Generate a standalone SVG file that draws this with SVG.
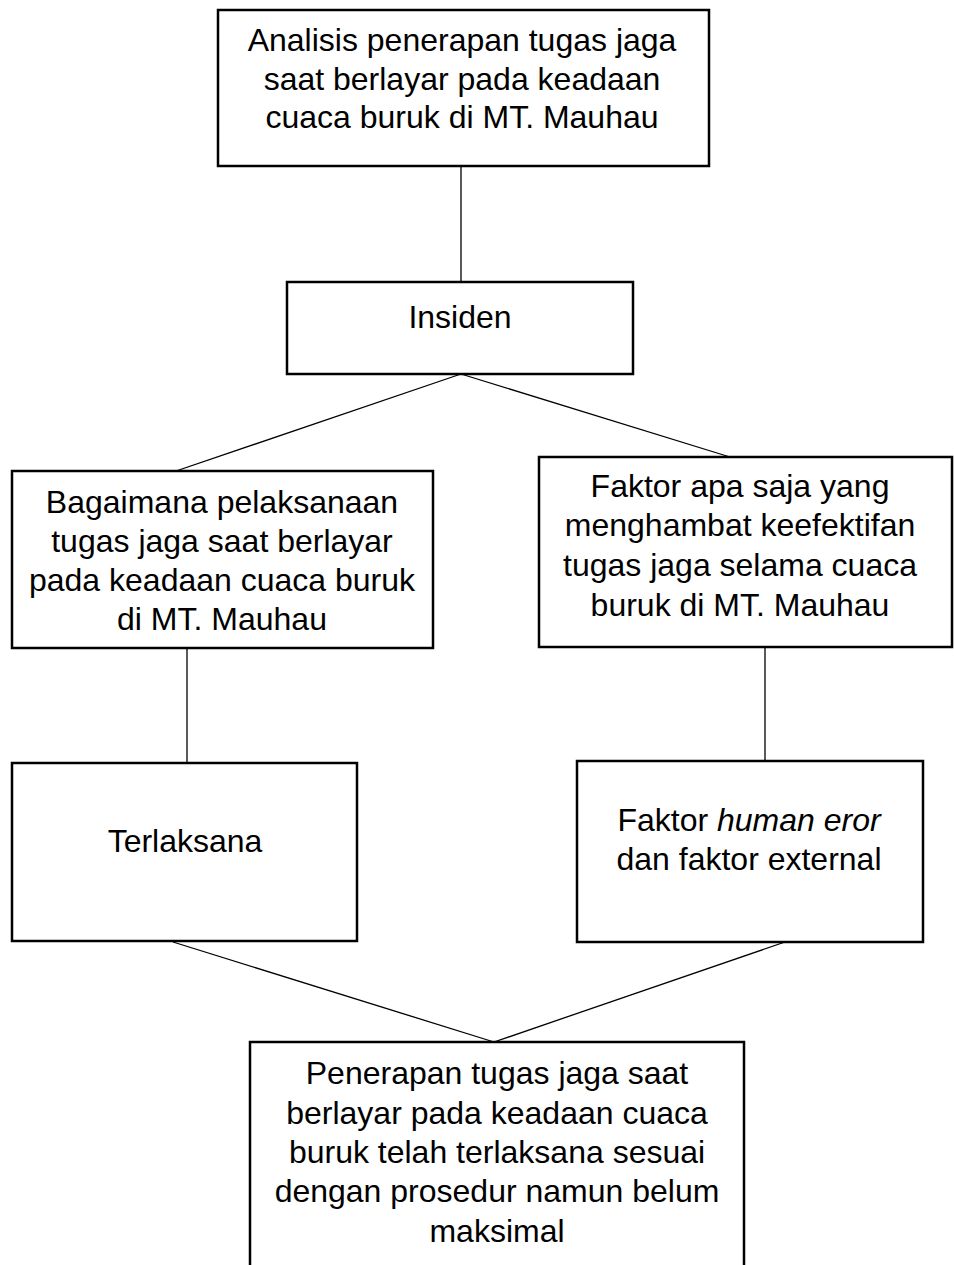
<svg xmlns="http://www.w3.org/2000/svg" width="954" height="1265" viewBox="0 0 954 1265">
<style>
.box{fill:#fff;stroke:#000;stroke-width:2.5}
.t{font-family:"Liberation Sans",Arial,sans-serif;font-size:32px;fill:#000;text-anchor:middle}
.c{stroke:#000;stroke-width:1.3;fill:none}
</style>
<rect width="954" height="1265" fill="#fff"/>
<g id="connectors">
<line class="c" x1="461" y1="166" x2="461" y2="282"/>
<line class="c" x1="461" y1="374" x2="176" y2="471"/>
<line class="c" x1="461" y1="374" x2="730" y2="457"/>
<line class="c" x1="187" y1="648" x2="187" y2="763"/>
<line class="c" x1="765" y1="647" x2="765" y2="761"/>
<line class="c" x1="173" y1="942" x2="494" y2="1042"/>
<line class="c" x1="785" y1="942" x2="494" y2="1042"/>
</g>
<g id="n1">
<rect class="box" x="218" y="10" width="491" height="156"/>
<text class="t" x="462" y="51">Analisis penerapan tugas jaga</text>
<text class="t" x="462" y="90">saat berlayar pada keadaan</text>
<text class="t" x="462" y="128">cuaca buruk di MT. Mauhau</text>
</g>
<g id="n2">
<rect class="box" x="287" y="282" width="346" height="92"/>
<text class="t" x="460" y="328">Insiden</text>
</g>
<g id="n3">
<rect class="box" x="12" y="471" width="421" height="177"/>
<text class="t" x="222" y="513">Bagaimana pelaksanaan</text>
<text class="t" x="222" y="552">tugas jaga saat berlayar</text>
<text class="t" x="222" y="591">pada keadaan cuaca buruk</text>
<text class="t" x="222" y="630">di MT. Mauhau</text>
</g>
<g id="n4">
<rect class="box" x="539" y="457" width="413" height="190"/>
<text class="t" x="740" y="497">Faktor apa saja yang</text>
<text class="t" x="740" y="536">menghambat keefektifan</text>
<text class="t" x="740" y="576">tugas jaga selama cuaca</text>
<text class="t" x="740" y="616">buruk di MT. Mauhau</text>
</g>
<g id="n5">
<rect class="box" x="12" y="763" width="345" height="178"/>
<text class="t" x="185" y="852">Terlaksana</text>
</g>
<g id="n6">
<rect class="box" x="577" y="761" width="346" height="181"/>
<text class="t" x="749" y="831">Faktor <tspan font-style="italic">human eror</tspan></text>
<text class="t" x="749" y="870">dan faktor external</text>
</g>
<g id="n7">
<rect class="box" x="250" y="1042" width="494" height="240"/>
<text class="t" x="497" y="1084">Penerapan tugas jaga saat</text>
<text class="t" x="497" y="1124">berlayar pada keadaan cuaca</text>
<text class="t" x="497" y="1163">buruk telah terlaksana sesuai</text>
<text class="t" x="497" y="1202">dengan prosedur namun belum</text>
<text class="t" x="497" y="1242">maksimal</text>
</g>
</svg>
